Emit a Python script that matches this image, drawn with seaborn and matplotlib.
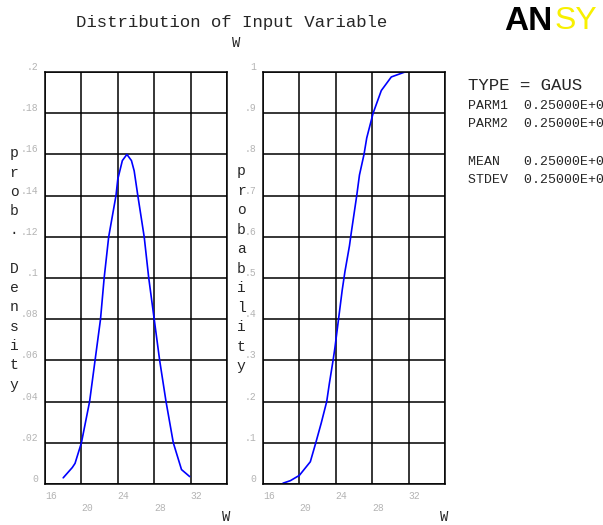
import matplotlib
matplotlib.use("Agg")
import matplotlib.pyplot as plt
import seaborn as sns
import pandas as pd

# valores (densidad y probabilidad acumulada de W)
w_pdf = [18.0, 19.0, 19.3, 20.0, 20.9, 21.5, 22.1, 22.5, 23.0, 23.8, 24.0, 24.5,
         25.0, 25.5, 25.8, 26.2, 26.9, 27.4, 28.0, 28.6, 29.3, 30.1, 31.0, 31.9]
dens = [0.003, 0.008, 0.010, 0.020, 0.040, 0.060, 0.080, 0.100, 0.120, 0.140, 0.148, 0.157,
        0.160, 0.157, 0.152, 0.140, 0.120, 0.100, 0.080, 0.060, 0.040, 0.020, 0.007, 0.0036]

w_cdf = [18.2, 19.0, 20.0, 21.2, 21.8, 22.4, 23.0, 23.3, 23.7, 23.9, 24.3, 24.7,
         25.0, 25.5, 25.7, 26.3, 26.6, 27.1, 27.4, 28.1, 29.0, 30.1, 31.6]
prob = [0.002, 0.008, 0.021, 0.054, 0.100, 0.148, 0.200, 0.245, 0.300, 0.330, 0.400, 0.470,
        0.515, 0.578, 0.610, 0.700, 0.750, 0.800, 0.840, 0.900, 0.955, 0.988, 1.000]

x_ticks = [16, 20, 24, 28, 32, 36]
x_labels = ["16", "\n20", "24", "\n28", "32", ""]
pdf_ticks = [0, 0.02, 0.04, 0.06, 0.08, 0.1, 0.12, 0.14, 0.16, 0.18, 0.2]
pdf_labels = ["0", ".02", ".04", ".06", ".08", ".1", ".12", ".14", ".16", ".18", ".2"]
cdf_ticks = [0, 0.1, 0.2, 0.3, 0.4, 0.5, 0.6, 0.7, 0.8, 0.9, 1.0]
cdf_labels = ["0", ".1", ".2", ".3", ".4", ".5", ".6", ".7", ".8", ".9", "1"]

df_pdf = pd.DataFrame({"W": w_pdf, "dens": dens})
df_cdf = pd.DataFrame({"W": w_cdf, "prob": prob})

sns.set_style("white")
plt.rcParams["font.family"] = ["Liberation Mono", "DejaVu Sans Mono"]

fig = plt.figure(figsize=(6.03, 5.25), dpi=100)
ax1 = fig.add_axes([45/603, 41/525, 182/603, 412/525])
ax2 = fig.add_axes([263/603, 41/525, 182/603, 412/525])

sns.lineplot(data=df_pdf, x="W", y="dens", ax=ax1, color="#0000ff", linewidth=1.2)
sns.lineplot(data=df_cdf, x="W", y="prob", ax=ax2, color="#0000ff", linewidth=1.2)

gray = "#b4b4b4"
for ax, yt, yl, ymax in [(ax1, pdf_ticks, pdf_labels, 0.2), (ax2, cdf_ticks, cdf_labels, 1.0)]:
    ax.set_xlim(16, 36)
    ax.set_ylim(0, ymax)
    ax.set_xticks(x_ticks)
    ax.set_xticklabels(x_labels, ha="left", va="top")
    ax.set_yticks(yt)
    ax.set_yticklabels(yl, va="bottom")
    ax.grid(True, color="black", linewidth=1.1)
    ax.set_axisbelow(True)
    for s in ax.spines.values():
        s.set_color("black")
        s.set_linewidth(1.1)
    ax.tick_params(direction="out", length=3, width=1.1, color="black",
                   labelcolor=gray, labelsize=7, pad=2)
    ax.set_xlabel("W", fontsize=10)
    ax.xaxis.set_label_coords(0.995, -0.063)

ax1.set_ylabel("p\nr\no\nb\n.\n\nD\ne\nn\ns\ni\nt\ny", rotation=0, fontsize=10.5,
               ha="center", va="center", linespacing=1.48)
ax1.yaxis.set_label_coords(-0.17, 0.522)
ax2.set_ylabel("p\nr\no\nb\na\nb\ni\nl\ni\nt\ny", rotation=0, fontsize=10.5,
               ha="center", va="center", linespacing=1.5)
ax2.yaxis.set_label_coords(-0.12, 0.522)

# titulo
fig.text(232/603, 1 - 22/525, "Distribution of Input Variable", ha="center", va="center", fontsize=12.5)
fig.text(236/603, 1 - 43/525, "W", ha="center", va="center", fontsize=10)

# logo
fig.text(504/603, 1 - 21/525, "AN", ha="left", va="center", fontsize=24, fontweight="bold",
         color="black", family="Liberation Sans")
fig.text(555/603, 1 - 21/525, "SY", ha="left", va="center", fontsize=23,
         color="#f8f000", family="Liberation Sans")

# parametros de la distribucion
fig.text(468/603, 1 - 85/525, "TYPE = GAUS", ha="left", va="center", fontsize=12.5)
info = [("PARM1  0.25000E+0", 106), ("PARM2  0.25000E+0", 124),
        ("MEAN   0.25000E+0", 162), ("STDEV  0.25000E+0", 180)]
for txt, yy in info:
    fig.text(468/603, 1 - yy/525, txt, ha="left", va="center", fontsize=9.5)

plt.savefig("out.png", dpi=100)
